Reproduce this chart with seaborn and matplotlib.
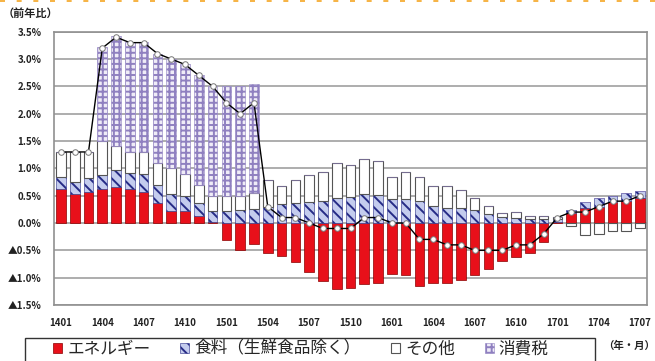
import matplotlib
matplotlib.use('Agg')
import matplotlib.pyplot as plt
from matplotlib.patches import Patch, Rectangle
from matplotlib.lines import Line2D
import numpy as np
import seaborn as sns

# data: contribution to core CPI y/y (% pt), 2014/01 - 2017/07
months = ['1401', '1402', '1403', '1404', '1405', '1406', '1407', '1408', '1409', '1410', '1411', '1412',
          '1501', '1502', '1503', '1504', '1505', '1506', '1507', '1508', '1509', '1510', '1511', '1512',
          '1601', '1602', '1603', '1604', '1605', '1606', '1607', '1608', '1609', '1610', '1611', '1612',
          '1701', '1702', '1703', '1704', '1705', '1706', '1707']

energy = [0.62, 0.53, 0.56, 0.62, 0.66, 0.62, 0.57, 0.37, 0.22, 0.22, 0.13, 0.02,
          -0.31, -0.50, -0.38, -0.54, -0.61, -0.72, -0.90, -1.07, -1.21, -1.19, -1.11, -1.09,
          -0.93, -0.95, -1.16, -1.10, -1.10, -1.04, -0.95, -0.85, -0.70, -0.62, -0.54, -0.35,
          0.02, 0.18, 0.28, 0.30, 0.38, 0.40, 0.45]
food = [0.23, 0.22, 0.27, 0.26, 0.31, 0.30, 0.32, 0.32, 0.31, 0.27, 0.23, 0.20,
        0.22, 0.24, 0.25, 0.30, 0.34, 0.37, 0.38, 0.40, 0.45, 0.48, 0.53, 0.51,
        0.44, 0.44, 0.41, 0.31, 0.28, 0.28, 0.24, 0.17, 0.11, 0.10, 0.08, 0.08,
        0.06, 0.05, 0.10, 0.15, 0.12, 0.14, 0.13]
other = [0.45, 0.55, 0.47, 0.62, 0.43, 0.38, 0.41, 0.41, 0.47, 0.41, 0.34, 0.28,
         0.28, 0.26, 0.30, 0.49, 0.33, 0.41, 0.49, 0.53, 0.65, 0.58, 0.65, 0.63,
         0.40, 0.49, 0.43, 0.37, 0.40, 0.32, 0.21, 0.14, 0.08, 0.10, 0.05, 0.04,
         0.03, -0.05, -0.22, -0.20, -0.15, -0.15, -0.10]
tax = [0, 0, 0, 1.72, 2.02, 2.02, 2.02, 2.0, 2.0, 2.0, 2.0, 2.0,
       2.0, 2.0, 2.0, 0, 0, 0, 0, 0, 0, 0, 0, 0,
       0, 0, 0, 0, 0, 0, 0, 0, 0, 0, 0, 0,
       0, 0, 0, 0, 0, 0, 0]
core = [1.3, 1.3, 1.3, 3.2, 3.4, 3.3, 3.3, 3.1, 3.0, 2.9, 2.7, 2.5,
        2.2, 2.0, 2.2, 0.3, 0.1, 0.1, 0.0, -0.1, -0.1, -0.1, 0.1, 0.1,
        0.0, 0.0, -0.3, -0.3, -0.4, -0.4, -0.5, -0.5, -0.5, -0.4, -0.4, -0.2,
        0.1, 0.2, 0.2, 0.3, 0.4, 0.4, 0.5]

series_names = ['エネルギー', '食料（生鮮食品除く）', 'その他', '消費税']
xtick_labels = ['1401', '1404', '1407', '1410', '1501', '1504', '1507', '1510',
                '1601', '1604', '1607', '1610', '1701', '1704', '1707']
yticks = [-1.5, -1.0, -0.5, 0.0, 0.5, 1.0, 1.5, 2.0, 2.5, 3.0, 3.5]
ytick_labels = ['▲1.5%', '▲1.0%', '▲0.5%', '0.0%', '0.5%', '1.0%', '1.5%',
                '2.0%', '2.5%', '3.0%', '3.5%']

styles = [
    dict(facecolor='#e8101a', edgecolor='#8a0000', hatch=None, lw=0.5),
    dict(facecolor='#c4ccee', edgecolor='#262b86', hatch='\\\\\\', lw=0.4),
    dict(facecolor='white', edgecolor='#555555', hatch=None, lw=0.8),
    dict(facecolor='#efecf7', edgecolor='#8f80c0', hatch='+++', lw=0.4),
]


def main():
    sns.set_style('white')
    plt.rcParams['font.family'] = ['Noto Sans CJK JP', 'DejaVu Sans']
    plt.rcParams['hatch.linewidth'] = 1.4

    fig = plt.figure(figsize=(6.55, 3.61), dpi=100)
    ax = fig.add_axes([54 / 655, 1 - 305 / 361, 593 / 655, (305 - 31.7) / 361])

    x = np.arange(len(months))
    pos_bottom = np.zeros(len(months))
    neg_bottom = np.zeros(len(months))
    for vals, st in zip([energy, food, other, tax], styles):
        v = np.array(vals)
        bottom = np.where(v >= 0, pos_bottom, neg_bottom)
        ax.bar(x, v, bottom=bottom, width=0.7, facecolor=st['facecolor'],
               edgecolor=st['edgecolor'], hatch=st['hatch'], linewidth=st['lw'], zorder=2)
        pos_bottom += np.clip(v, 0, None)
        neg_bottom += np.clip(v, None, 0)

    sns.lineplot(x=x, y=core, ax=ax, color='black', linewidth=1.0, marker='o',
                 markersize=4, markerfacecolor='white', markeredgecolor='#777777',
                 markeredgewidth=0.7, zorder=5)

    ax.set_xlim(-0.5, len(months) - 0.5)
    ax.set_ylim(-1.5, 3.5)
    ax.set_yticks(yticks)
    ax.set_yticklabels(ytick_labels)
    ax.set_xticks([months.index(m) for m in xtick_labels])
    ax.set_xticklabels(xtick_labels)
    ax.tick_params(axis='both', length=0, labelsize=7, colors='#222222')
    ax.tick_params(axis='y', pad=9)
    ax.tick_params(axis='x', pad=9)
    for lbl in ax.get_xticklabels() + ax.get_yticklabels():
        lbl.set_fontweight('bold')
    ax.grid(axis='y', color='#a0a0a0', linewidth=1.2, zorder=0)
    ax.set_axisbelow(True)
    for sp in ax.spines.values():
        sp.set_color('#909090')
        sp.set_linewidth(1.2)

    fig.text(3 / 655, 1 - 13 / 361, '（前年比）', fontsize=8, fontweight='bold',
             color='#222222', va='center', ha='left')
    fig.text(629 / 655, 1 - 346 / 361, '（年・月）', fontsize=7.5, fontweight='bold',
             color='#222222', va='center', ha='center')

    # legend
    handles = [Patch(facecolor=st['facecolor'], edgecolor=st['edgecolor'], hatch=st['hatch'],
                     linewidth=st['lw']) for st in styles]
    fig.legend(handles, series_names, ncol=4, loc='center left',
               bbox_to_anchor=(53 / 655, 1 - 349 / 361), frameon=False, fontsize=12,
               handlelength=0.55, handleheight=0.55, handletextpad=0.3,
               columnspacing=1.8, borderpad=0, borderaxespad=0)
    fig.add_artist(Rectangle((25 / 655, -0.02), 570 / 655, 0.02 + (361 - 338) / 361,
                             transform=fig.transFigure, fill=False, edgecolor='#333333',
                             linewidth=1.0))
    fig.add_artist(Line2D([0, 1], [0.998, 0.998], transform=fig.transFigure,
                          color='#f5a623', linewidth=1.2, dashes=(3, 7)))

    fig.savefig('out.png', dpi=100)
    plt.close(fig)


if __name__ == '__main__':
    main()
